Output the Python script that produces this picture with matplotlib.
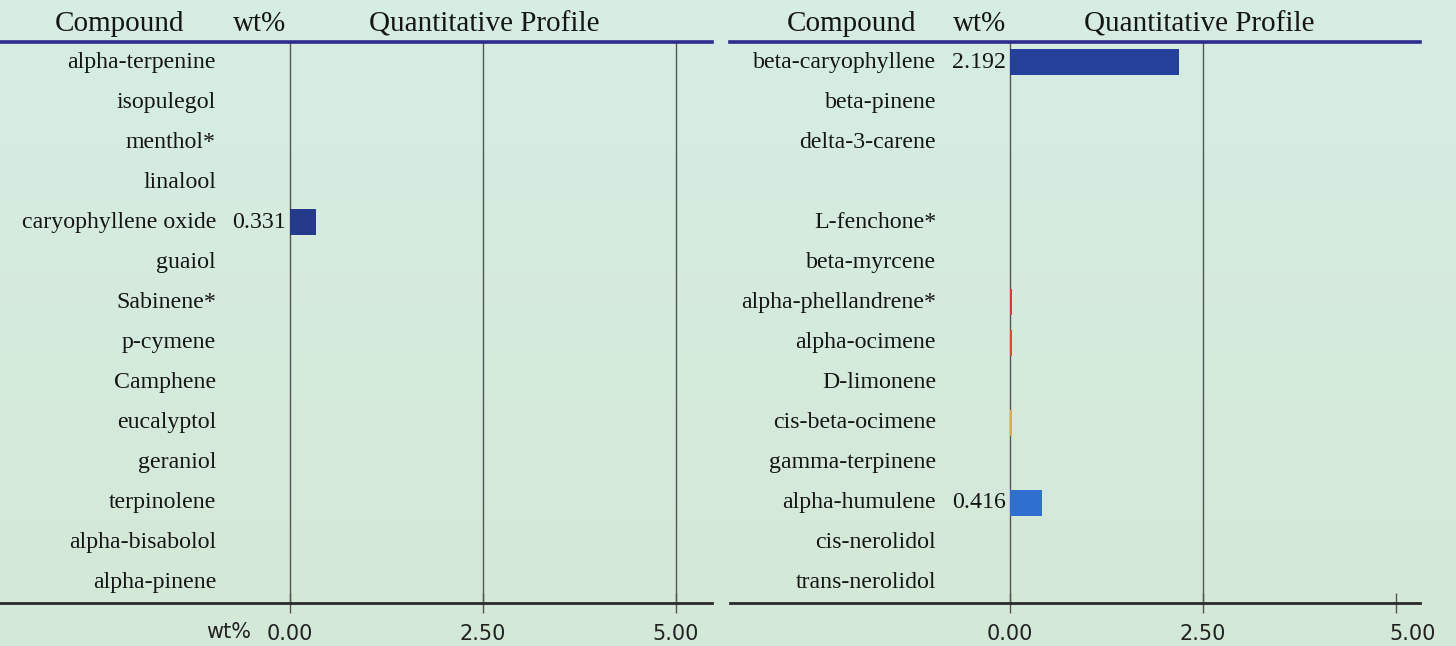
import matplotlib
matplotlib.use("Agg")
import matplotlib.pyplot as plt
import matplotlib.transforms as mtransforms
import numpy as np

# ---------------- data ----------------
left_compounds = ["alpha-terpenine", "isopulegol", "menthol*", "linalool",
                  "caryophyllene oxide", "guaiol", "Sabinene*", "p-cymene",
                  "Camphene", "eucalyptol", "geraniol", "terpinolene",
                  "alpha-bisabolol", "alpha-pinene"]
left_values = [0, 0, 0, 0, 0.331, 0, 0, 0, 0, 0, 0, 0, 0, 0]
left_colors = ["#263a8c"] * 14

right_compounds = ["beta-caryophyllene", "beta-pinene", "delta-3-carene", "",
                   "L-fenchone*", "beta-myrcene", "alpha-phellandrene*",
                   "alpha-ocimene", "D-limonene", "cis-beta-ocimene",
                   "gamma-terpinene", "alpha-humulene", "cis-nerolidol",
                   "trans-nerolidol"]
right_values = [2.192, 0, 0, 0, 0, 0, 0.03, 0.03, 0, 0.02, 0, 0.416, 0, 0]
right_colors = ["#24409a", "#24409a", "#24409a", "#24409a", "#24409a",
                "#24409a", "#d83a3a", "#d2502a", "#24409a", "#e0a850",
                "#24409a", "#2f6fd0", "#24409a", "#24409a"]

ticks = [0.0, 2.5, 5.0]
tick_labels = ["0.00", "2.50", "5.00"]

# ---------------- figure ----------------
W, H = 1456, 646
fig = plt.figure(figsize=(W / 100, H / 100), dpi=100)

# subtle background gradient
bg = fig.add_axes([0, 0, 1, 1], zorder=-10)
grad = np.linspace(0, 1, 256).reshape(-1, 1)
top = np.array([0.84, 0.93, 0.89])
bot = np.array([0.83, 0.91, 0.84])
img = top[None, None, :] * (1 - grad[:, :, None]) + bot[None, None, :] * grad[:, :, None]
bg.imshow(img, aspect="auto", extent=[0, 1, 0, 1])
bg.set_axis_off()

SERIF = "Liberation Serif"
SANS = "DejaVu Sans"
px_per_unit = 77.2

y_top_px, y_bot_px = 42, 603


def make_panel(x0_px, x1_px, zero_px, compounds, values, colors,
               grid_ticks, label_x_px, value_x_px, head_pos, show_wt,
               last_label_shift=0):
    ax = fig.add_axes([x0_px / W, 1 - y_bot_px / H, (x1_px - x0_px) / W,
                       (y_bot_px - y_top_px) / H])
    ax.set_facecolor("none")
    ax.set_xlim(-(zero_px - x0_px) / px_per_unit, (x1_px - zero_px) / px_per_unit)
    n = len(compounds)
    ax.set_ylim(n - 0.5, -0.5)
    y = np.arange(n)
    for g in grid_ticks:
        ax.axvline(g, color="#555555", lw=1.0, zorder=1)
    ax.barh(y, values, height=0.65, color=colors, zorder=3)
    trans = mtransforms.blended_transform_factory(fig.transFigure, ax.transData)
    for yi, name, v in zip(y, compounds, values):
        ax.text(label_x_px / W, yi, name, transform=trans, ha="right",
                va="center", fontsize=17.2, family=SERIF, color="#151515")
        if v >= 0.1:
            ax.text(value_x_px / W, yi, f"{v:.3f}", transform=trans,
                    ha="right", va="center", fontsize=17.2, family=SERIF,
                    color="#151515")
    for sp in ["left", "right"]:
        ax.spines[sp].set_visible(False)
    ax.spines["top"].set_color("#2c2c8e")
    ax.spines["top"].set_linewidth(2.6)
    ax.spines["bottom"].set_color("#2a2a2a")
    ax.spines["bottom"].set_linewidth(2.0)
    ax.set_yticks([])
    ax.set_xticks(ticks)
    ax.set_xticklabels(tick_labels, fontsize=15, family=SANS, color="#222222")
    ax.tick_params(axis="x", direction="inout", length=14, width=1.0,
                   color="#555555", pad=8)
    if last_label_shift:
        lbl = ax.get_xticklabels()[-1]
        lbl.set_transform(lbl.get_transform() + mtransforms.ScaledTranslation(
            last_label_shift / 100, 0, fig.dpi_scale_trans))
    for txt, xc in head_pos:
        fig.text(xc / W, 1 - 24 / H, txt, ha="center", va="center",
                 fontsize=21, family=SERIF, color="#151515")
    if show_wt:
        fig.text(229 / W, 1 - 632 / H, "wt%", ha="center", va="center",
                 fontsize=15, family=SANS, color="#222222")
    return ax


make_panel(0, 712, 290, left_compounds, left_values, left_colors,
           [0.0, 2.5, 5.0], 216, 286,
           [("Compound", 119), ("wt%", 260), ("Quantitative Profile", 484)],
           True)
make_panel(730, 1420, 1010, right_compounds, right_values, right_colors,
           [0.0, 2.5], 936, 1006,
           [("Compound", 852), ("wt%", 980), ("Quantitative Profile", 1199)],
           False, last_label_shift=17)

fig.savefig("out.png", dpi=100)
